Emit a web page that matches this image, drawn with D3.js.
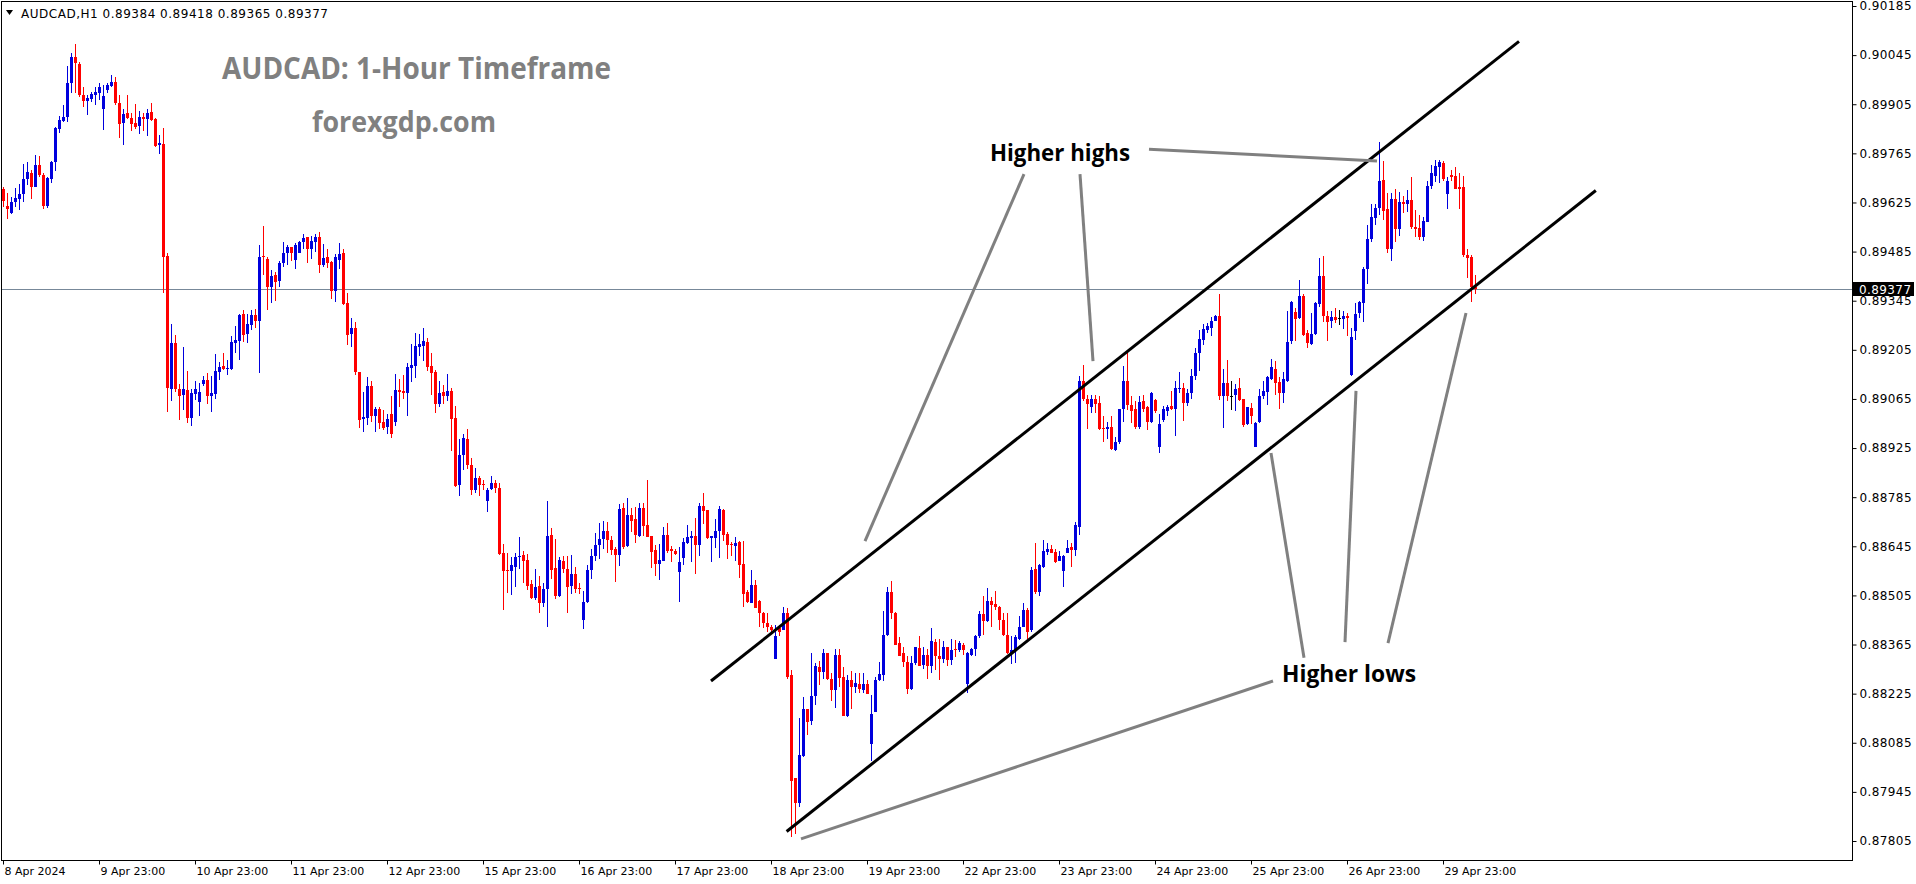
<!DOCTYPE html>
<html><head><meta charset="utf-8">
<script src="https://cdn.jsdelivr.net/npm/d3@7"></script>
<style>html,body{margin:0;padding:0;background:#fff;overflow:hidden}</style>
</head><body>
<svg id="chart" width="1916" height="884"></svg>
<script>
// ---- DATA (AUDCAD H1, bar 0 = 8 Apr 2024 23:00) ----
const open = [
0.89663,0.89615,0.89596,0.89625,0.89636,0.89649,0.89691,0.89708,0.89670,0.89731,
0.89702,0.89615,0.89693,0.89740,0.89835,0.89858,0.89870,0.89965,0.90039,0.90020,
0.89930,0.89913,0.89921,0.89932,0.89938,0.89892,0.89946,0.89957,0.89968,0.89908,
0.89851,0.89879,0.89866,0.89851,0.89843,0.89868,0.89864,0.89883,0.89862,0.89790,
0.89792,0.89473,0.89094,0.89224,0.89094,0.89077,0.89091,0.89011,0.89079,0.89056,
0.89108,0.89119,0.89074,0.89079,0.89142,0.89159,0.89151,0.89151,0.89225,0.89229,
0.89307,0.89250,0.89275,0.89305,0.89288,0.89472,0.89463,0.89383,0.89417,0.89402,
0.89453,0.89480,0.89497,0.89461,0.89482,0.89512,0.89526,0.89491,0.89512,0.89526,
0.89446,0.89469,0.89455,0.89374,0.89461,0.89480,0.89338,0.89250,0.89267,0.89142,
0.89009,0.89011,0.89102,0.89016,0.89035,0.88999,0.88986,0.89022,0.88999,0.89091,
0.89087,0.89083,0.89153,0.89159,0.89214,0.89216,0.89227,0.89159,0.89142,0.89051,
0.89085,0.89072,0.89089,0.89011,0.88819,0.88904,0.88952,0.88878,0.88806,0.88840,
0.88823,0.88775,0.88809,0.88825,0.88811,0.88625,0.88578,0.88576,0.88587,0.88616,
0.88619,0.88606,0.88538,0.88498,0.88532,0.88484,0.88524,0.88676,0.88583,0.88503,
0.88604,0.88581,0.88532,0.88566,0.88526,0.88435,0.88486,0.88578,0.88616,0.88648,
0.88665,0.88690,0.88663,0.88638,0.88621,0.88754,0.88646,0.88735,0.88722,0.88674,
0.88754,0.88705,0.88674,0.88635,0.88595,0.88604,0.88676,0.88636,0.88633,0.88572,
0.88612,0.88655,0.88669,0.88674,0.88650,0.88760,0.88749,0.88669,0.88669,0.88688,
0.88749,0.88680,0.88652,0.88646,0.88657,0.88595,0.88515,0.88484,0.88534,0.88488,
0.88454,0.88427,0.88414,0.88325,0.88412,0.88405,0.88456,0.88277,0.87985,0.87913,
0.88047,0.88180,0.88148,0.88217,0.88302,0.88287,0.88340,0.88266,0.88236,0.88336,
0.88272,0.88161,0.88264,0.88243,0.88253,0.88236,0.88253,0.88082,0.88173,0.88264,
0.88279,0.88391,0.88515,0.88456,0.88369,0.88340,0.88315,0.88237,0.88312,0.88355,
0.88306,0.88336,0.88304,0.88372,0.88332,0.88325,0.88357,0.88321,0.88351,0.88350,
0.88365,0.88253,0.88334,0.88351,0.88388,0.88452,0.88431,0.88488,0.88481,0.88473,
0.88435,0.88391,0.88340,0.88348,0.88382,0.88416,0.88462,0.88405,0.88579,0.88515,
0.88587,0.88629,0.88636,0.88629,0.88604,0.88576,0.88627,0.88642,0.88635,0.88701,
0.89115,0.89064,0.89043,0.89064,0.89054,0.88982,0.88978,0.88986,0.88920,0.88942,
0.89035,0.89115,0.89047,0.89035,0.88984,0.89058,0.89043,0.88999,0.89062,0.88929,
0.89005,0.89030,0.89045,0.89035,0.89092,0.89096,0.89053,0.89081,0.89129,0.89197,
0.89233,0.89262,0.89267,0.89288,0.89302,0.89072,0.89111,0.89072,0.89075,0.89096,
0.89064,0.88994,0.89039,0.88927,0.88999,0.89073,0.89085,0.89123,0.89151,0.89113,
0.89083,0.89115,0.89231,0.89313,0.89296,0.89357,0.89254,0.89222,0.89250,0.89336,
0.89414,0.89302,0.89288,0.89298,0.89296,0.89294,0.89302,0.89132,0.89258,0.89309,
0.89338,0.89435,0.89520,0.89581,0.89609,0.89689,0.89606,0.89492,0.89634,0.89550,
0.89626,0.89621,0.89632,0.89554,0.89552,0.89526,0.89569,0.89672,0.89701,0.89727,
0.89737,0.89649,0.89704,0.89701,0.89670,0.89668,0.89476,0.89471,0.89384];
const high = [
0.89670,0.89653,0.89642,0.89666,0.89678,0.89735,0.89739,0.89718,0.89759,0.89758,
0.89708,0.89699,0.89744,0.89841,0.89872,0.89902,0.90014,0.90050,0.90077,0.90024,
0.89953,0.89930,0.89940,0.89953,0.89966,0.89959,0.89965,0.89987,0.89982,0.89930,
0.89891,0.89930,0.89879,0.89906,0.89885,0.89881,0.89892,0.89908,0.89866,0.89816,
0.89837,0.89480,0.89279,0.89246,0.89108,0.89214,0.89144,0.89093,0.89115,0.89110,
0.89131,0.89138,0.89131,0.89193,0.89169,0.89197,0.89176,0.89243,0.89273,0.89307,
0.89319,0.89307,0.89319,0.89322,0.89503,0.89558,0.89469,0.89433,0.89427,0.89459,
0.89512,0.89503,0.89499,0.89510,0.89516,0.89535,0.89528,0.89529,0.89535,0.89541,
0.89507,0.89491,0.89457,0.89478,0.89509,0.89493,0.89366,0.89296,0.89284,0.89142,
0.89085,0.89127,0.89115,0.89043,0.89043,0.89034,0.89022,0.89073,0.89136,0.89121,
0.89134,0.89168,0.89222,0.89252,0.89250,0.89267,0.89239,0.89195,0.89148,0.89117,
0.89106,0.89136,0.89096,0.89045,0.88952,0.88965,0.88980,0.88897,0.88868,0.88845,
0.88834,0.88811,0.88845,0.88834,0.88826,0.88652,0.88627,0.88614,0.88627,0.88671,
0.88633,0.88623,0.88549,0.88581,0.88560,0.88540,0.88775,0.88697,0.88667,0.88614,
0.88616,0.88616,0.88621,0.88585,0.88540,0.88519,0.88591,0.88638,0.88684,0.88711,
0.88718,0.88714,0.88674,0.88644,0.88766,0.88768,0.88783,0.88754,0.88756,0.88768,
0.88768,0.88834,0.88674,0.88648,0.88652,0.88699,0.88711,0.88646,0.88638,0.88644,
0.88669,0.88705,0.88690,0.88726,0.88769,0.88796,0.88749,0.88674,0.88722,0.88760,
0.88750,0.88686,0.88657,0.88671,0.88661,0.88661,0.88521,0.88578,0.88549,0.88492,
0.88458,0.88454,0.88422,0.88420,0.88422,0.88473,0.88469,0.88293,0.87985,0.88156,
0.88215,0.88180,0.88340,0.88313,0.88317,0.88353,0.88342,0.88283,0.88351,0.88351,
0.88302,0.88277,0.88289,0.88285,0.88285,0.88283,0.88264,0.88220,0.88272,0.88315,
0.88460,0.88530,0.88545,0.88458,0.88386,0.88359,0.88331,0.88331,0.88359,0.88389,
0.88359,0.88351,0.88412,0.88382,0.88382,0.88374,0.88359,0.88380,0.88378,0.88374,
0.88369,0.88344,0.88355,0.88391,0.88460,0.88502,0.88526,0.88500,0.88517,0.88475,
0.88456,0.88454,0.88388,0.88391,0.88445,0.88483,0.88469,0.88585,0.88655,0.88595,
0.88663,0.88654,0.88650,0.88638,0.88633,0.88619,0.88663,0.88654,0.88714,0.89129,
0.89161,0.89075,0.89075,0.89075,0.89072,0.89016,0.88999,0.89016,0.88956,0.89037,
0.89159,0.89195,0.89073,0.89060,0.89072,0.89075,0.89045,0.89085,0.89066,0.89022,
0.89045,0.89047,0.89087,0.89115,0.89142,0.89110,0.89094,0.89151,0.89210,0.89262,
0.89279,0.89281,0.89298,0.89303,0.89364,0.89149,0.89176,0.89117,0.89108,0.89125,
0.89066,0.89043,0.89054,0.88999,0.89094,0.89115,0.89130,0.89180,0.89174,0.89127,
0.89142,0.89315,0.89345,0.89324,0.89404,0.89364,0.89262,0.89311,0.89340,0.89467,
0.89473,0.89315,0.89315,0.89324,0.89319,0.89317,0.89311,0.89267,0.89338,0.89343,
0.89442,0.89562,0.89621,0.89621,0.89796,0.89744,0.89653,0.89653,0.89663,0.89655,
0.89644,0.89661,0.89699,0.89604,0.89588,0.89583,0.89687,0.89731,0.89746,0.89746,
0.89742,0.89699,0.89718,0.89727,0.89710,0.89701,0.89493,0.89474,0.89418];
const low = [
0.89613,0.89577,0.89592,0.89613,0.89604,0.89625,0.89676,0.89636,0.89668,0.89697,
0.89607,0.89609,0.89680,0.89716,0.89824,0.89854,0.89853,0.89938,0.89938,0.89927,
0.89898,0.89875,0.89911,0.89904,0.89917,0.89832,0.89936,0.89955,0.89902,0.89809,
0.89790,0.89864,0.89830,0.89835,0.89820,0.89830,0.89814,0.89858,0.89784,0.89763,
0.89368,0.89028,0.89060,0.89085,0.89005,0.89034,0.88996,0.88988,0.89062,0.89015,
0.89102,0.89051,0.89028,0.89066,0.89119,0.89148,0.89134,0.89148,0.89195,0.89176,
0.89227,0.89224,0.89262,0.89267,0.89140,0.89419,0.89319,0.89339,0.89345,0.89383,
0.89442,0.89448,0.89459,0.89436,0.89480,0.89493,0.89452,0.89465,0.89484,0.89425,
0.89440,0.89438,0.89351,0.89341,0.89436,0.89334,0.89220,0.89214,0.89132,0.88982,
0.88971,0.88992,0.88999,0.88971,0.88980,0.88977,0.88965,0.88954,0.88988,0.89043,
0.89066,0.89016,0.89113,0.89125,0.89187,0.89174,0.89146,0.89077,0.89024,0.89043,
0.89051,0.89058,0.88918,0.88815,0.88788,0.88863,0.88864,0.88790,0.88796,0.88787,
0.88806,0.88743,0.88806,0.88796,0.88621,0.88464,0.88513,0.88507,0.88530,0.88581,
0.88541,0.88521,0.88494,0.88492,0.88454,0.88471,0.88414,0.88553,0.88496,0.88500,
0.88568,0.88456,0.88509,0.88511,0.88509,0.88410,0.88484,0.88553,0.88604,0.88610,
0.88636,0.88625,0.88619,0.88543,0.88589,0.88638,0.88642,0.88686,0.88655,0.88671,
0.88674,0.88671,0.88583,0.88560,0.88549,0.88602,0.88625,0.88600,0.88621,0.88486,
0.88593,0.88652,0.88600,0.88566,0.88616,0.88709,0.88667,0.88600,0.88640,0.88612,
0.88659,0.88610,0.88616,0.88604,0.88555,0.88473,0.88484,0.88484,0.88469,0.88414,
0.88412,0.88401,0.88399,0.88325,0.88388,0.88405,0.88266,0.87816,0.87825,0.87901,
0.88045,0.88108,0.88135,0.88194,0.88249,0.88266,0.88264,0.88205,0.88184,0.88245,
0.88160,0.88158,0.88182,0.88226,0.88226,0.88226,0.88224,0.88034,0.88173,0.88262,
0.88262,0.88388,0.88439,0.88363,0.88331,0.88302,0.88224,0.88234,0.88306,0.88304,
0.88296,0.88266,0.88285,0.88291,0.88264,0.88313,0.88304,0.88306,0.88329,0.88344,
0.88334,0.88226,0.88332,0.88331,0.88384,0.88393,0.88429,0.88416,0.88462,0.88407,
0.88388,0.88338,0.88310,0.88313,0.88378,0.88414,0.88382,0.88401,0.88509,0.88502,
0.88583,0.88619,0.88625,0.88598,0.88602,0.88530,0.88627,0.88587,0.88616,0.88678,
0.89058,0.88980,0.89024,0.89024,0.88977,0.88942,0.88952,0.88920,0.88916,0.88937,
0.88999,0.89034,0.88997,0.88980,0.88978,0.89028,0.88977,0.88997,0.89026,0.88912,
0.88999,0.89015,0.89034,0.88959,0.89081,0.89003,0.89045,0.89066,0.89119,0.89146,
0.89218,0.89252,0.89245,0.89286,0.89062,0.88982,0.89060,0.89034,0.89032,0.89058,
0.88984,0.88990,0.88994,0.88927,0.88997,0.89066,0.89049,0.89119,0.89075,0.89037,
0.89054,0.89113,0.89222,0.89231,0.89294,0.89245,0.89210,0.89220,0.89248,0.89328,
0.89283,0.89231,0.89267,0.89281,0.89275,0.89265,0.89243,0.89129,0.89233,0.89296,
0.89283,0.89393,0.89512,0.89562,0.89590,0.89575,0.89480,0.89459,0.89512,0.89530,
0.89594,0.89598,0.89550,0.89528,0.89518,0.89516,0.89568,0.89664,0.89682,0.89680,
0.89687,0.89607,0.89687,0.89663,0.89607,0.89471,0.89410,0.89341,0.89365];
const close = [
0.89630,0.89606,0.89626,0.89638,0.89649,0.89691,0.89712,0.89670,0.89731,0.89704,
0.89615,0.89695,0.89740,0.89837,0.89860,0.89868,0.89965,0.90039,0.90022,0.89930,
0.89915,0.89923,0.89934,0.89940,0.89953,0.89928,0.89959,0.89968,0.89908,0.89849,
0.89877,0.89866,0.89849,0.89839,0.89868,0.89864,0.89879,0.89860,0.89786,0.89794,
0.89471,0.89096,0.89224,0.89094,0.89074,0.89093,0.89011,0.89083,0.89093,0.89085,
0.89119,0.89074,0.89083,0.89146,0.89155,0.89151,0.89153,0.89227,0.89233,0.89305,
0.89248,0.89279,0.89305,0.89288,0.89469,0.89469,0.89385,0.89415,0.89398,0.89452,
0.89480,0.89497,0.89482,0.89503,0.89512,0.89524,0.89491,0.89514,0.89526,0.89446,
0.89467,0.89452,0.89374,0.89469,0.89478,0.89336,0.89248,0.89267,0.89142,0.89005,
0.89013,0.89102,0.89015,0.89035,0.88997,0.88982,0.89007,0.88965,0.89091,0.89085,
0.89083,0.89155,0.89161,0.89216,0.89222,0.89229,0.89157,0.89140,0.89051,0.89081,
0.89072,0.89087,0.89009,0.88817,0.88904,0.88954,0.88876,0.88806,0.88840,0.88821,
0.88821,0.88806,0.88825,0.88811,0.88623,0.88576,0.88576,0.88591,0.88614,0.88617,
0.88604,0.88532,0.88498,0.88528,0.88484,0.88524,0.88674,0.88578,0.88503,0.88606,
0.88579,0.88530,0.88566,0.88524,0.88522,0.88486,0.88578,0.88616,0.88648,0.88665,
0.88690,0.88663,0.88635,0.88621,0.88750,0.88642,0.88735,0.88718,0.88678,0.88754,
0.88703,0.88671,0.88629,0.88595,0.88606,0.88676,0.88633,0.88631,0.88623,0.88600,
0.88657,0.88672,0.88674,0.88650,0.88760,0.88747,0.88669,0.88674,0.88690,0.88750,
0.88678,0.88650,0.88648,0.88655,0.88593,0.88509,0.88486,0.88534,0.88469,0.88454,
0.88426,0.88414,0.88405,0.88389,0.88401,0.88454,0.88272,0.87977,0.87913,0.88049,
0.88180,0.88144,0.88218,0.88304,0.88287,0.88340,0.88266,0.88236,0.88336,0.88270,
0.88161,0.88264,0.88243,0.88254,0.88239,0.88253,0.88224,0.88167,0.88264,0.88281,
0.88391,0.88515,0.88454,0.88365,0.88332,0.88315,0.88237,0.88313,0.88359,0.88304,
0.88336,0.88304,0.88374,0.88331,0.88325,0.88357,0.88321,0.88350,0.88348,0.88369,
0.88348,0.88340,0.88351,0.88388,0.88452,0.88431,0.88488,0.88477,0.88471,0.88435,
0.88391,0.88340,0.88350,0.88386,0.88416,0.88462,0.88401,0.88578,0.88515,0.88591,
0.88633,0.88636,0.88627,0.88600,0.88616,0.88616,0.88640,0.88635,0.88705,0.89115,
0.89064,0.89051,0.89064,0.89051,0.88980,0.88978,0.88986,0.88921,0.88942,0.89035,
0.89115,0.89049,0.89032,0.88984,0.89056,0.89037,0.88999,0.89081,0.89030,0.88994,
0.89035,0.89043,0.89035,0.89096,0.89096,0.89053,0.89081,0.89130,0.89197,0.89235,
0.89264,0.89273,0.89286,0.89300,0.89072,0.89111,0.89072,0.89072,0.89094,0.89062,
0.88992,0.89041,0.89016,0.88996,0.89073,0.89089,0.89127,0.89155,0.89111,0.89083,
0.89123,0.89228,0.89340,0.89294,0.89357,0.89248,0.89224,0.89250,0.89338,0.89414,
0.89300,0.89284,0.89298,0.89290,0.89296,0.89302,0.89296,0.89241,0.89307,0.89340,
0.89435,0.89520,0.89583,0.89609,0.89687,0.89602,0.89492,0.89634,0.89549,0.89626,
0.89621,0.89632,0.89554,0.89550,0.89526,0.89571,0.89672,0.89708,0.89729,0.89739,
0.89693,0.89685,0.89697,0.89663,0.89664,0.89474,0.89467,0.89385,0.89377];

const priceTicks = [0.90185,0.90045,0.89905,0.89765,0.89625,0.89485,0.89345,0.89205,
  0.89065,0.88925,0.88785,0.88645,0.88505,0.88365,0.88225,0.88085,0.87945,0.87805];
const dateLabels = ["8 Apr 2024","9 Apr 23:00","10 Apr 23:00","11 Apr 23:00","12 Apr 23:00",
  "15 Apr 23:00","16 Apr 23:00","17 Apr 23:00","18 Apr 23:00","19 Apr 23:00","22 Apr 23:00",
  "23 Apr 23:00","24 Apr 23:00","25 Apr 23:00","26 Apr 23:00","29 Apr 23:00"];
const dateBars = [0,24,48,72,96,120,144,168,192,216,240,264,288,312,336,360];
const bidPrice = 0.89377;
const headerText = "AUDCAD,H1  0.89384 0.89418 0.89365 0.89377";
const titleText = "AUDCAD: 1-Hour Timeframe";
const siteText = "forexgdp.com";
// trend channel (bar index, price)
const channelLines = [
  {b1:177, p1:0.88261, b2:379, p2:0.90084},
  {b1:195.9, p1:0.87832, b2:398.2, p2:0.89659}];
// grey pointer lines
const pointerLines = [
  {b1:255.25, p1:0.89706, b2:215.5, p2:0.88660},
  {b1:269.25, p1:0.89706, b2:272.5, p2:0.89173},
  {b1:286.5, p1:0.89777, b2:343.5, p2:0.89743},
  {b1:317.5, p1:0.88261, b2:199.5, p2:0.87811},
  {b1:325.25, p1:0.88327, b2:317, p2:0.88911},
  {b1:335.5, p1:0.88372, b2:338.25, p2:0.89088},
  {b1:346.25, p1:0.88369, b2:365.75, p2:0.89310}];
const notes = [
  {text:"Higher highs", bar:246.75, price:0.89743, w:140},
  {text:"Higher lows", bar:319.75, price:0.88258, w:134}];

// ---- DRAW ----
const svg = d3.select("#chart");
const N = Math.min(open.length, high.length, low.length, close.length);
const x = d3.scaleLinear().domain([0, 368]).range([3, 1475]);
const y = d3.scaleLinear().domain([0.87805, 0.90185]).range([841, 6]);
const bull = "#0000dd", bear = "#ff0000";

svg.append("rect").attr("width",1916).attr("height",884).attr("fill","#fff");

// watermark title
svg.append("text").attr("x",222).attr("y",79).text(titleText)
  .attr("font-family","'Open Sans', Lato, sans-serif").attr("font-weight","bold")
  .attr("font-size",30).attr("fill","#808080")
  .attr("textLength",389).attr("lengthAdjust","spacingAndGlyphs");
svg.append("text").attr("x",312).attr("y",132).text(siteText)
  .attr("font-family","'Open Sans', Lato, sans-serif").attr("font-weight","bold")
  .attr("font-size",29).attr("fill","#808080")
  .attr("textLength",184).attr("lengthAdjust","spacingAndGlyphs");

// bid line
const yb = Math.round(y(bidPrice)) + 0.5;
svg.append("line").attr("x1",2).attr("x2",1852).attr("y1",yb).attr("y2",yb)
  .attr("stroke","#778899").attr("stroke-width",1);

// candles
const idx = d3.range(N);
const col = i => open[i] === close[i] ? "#000" : (close[i] > open[i] ? bull : bear);
const cg = svg.append("g").attr("shape-rendering","crispEdges");
cg.selectAll("line.w").data(idx).join("line").attr("class","w")
  .attr("x1", i => x(i)+0.5).attr("x2", i => x(i)+0.5)
  .attr("y1", i => y(high[i])).attr("y2", i => y(low[i]))
  .attr("stroke", col).attr("stroke-width",1);
cg.selectAll("rect.b").data(idx).join("rect").attr("class","b")
  .attr("x", i => x(i)-1).attr("width",3)
  .attr("y", i => y(Math.max(open[i],close[i])))
  .attr("height", i => Math.max(1, Math.abs(y(open[i]) - y(close[i]))))
  .attr("fill", col);

// channel lines
svg.selectAll("line.ch").data(channelLines).join("line").attr("class","ch")
  .attr("x1", d => x(d.b1)).attr("y1", d => y(d.p1))
  .attr("x2", d => x(d.b2)).attr("y2", d => y(d.p2))
  .attr("stroke","#000").attr("stroke-width",3);
// pointer lines
svg.selectAll("line.pt").data(pointerLines).join("line").attr("class","pt")
  .attr("x1", d => x(d.b1)).attr("y1", d => y(d.p1))
  .attr("x2", d => x(d.b2)).attr("y2", d => y(d.p2))
  .attr("stroke","#808080").attr("stroke-width",3);
// notes
svg.selectAll("text.note").data(notes).join("text").attr("class","note")
  .attr("x", d => x(d.bar)).attr("y", d => y(d.price)).text(d => d.text)
  .attr("font-family","'Open Sans', Lato, sans-serif").attr("font-weight","bold")
  .attr("font-size",23).attr("fill","#000")
  .attr("textLength", d => d.w).attr("lengthAdjust","spacingAndGlyphs");

// frame
svg.append("rect").attr("x",1.5).attr("y",1.5).attr("width",1851).attr("height",859)
  .attr("fill","none").attr("stroke","#000").attr("stroke-width",1);

// right price axis
const ya = svg.append("g").attr("transform","translate(1852.5,0)")
  .call(d3.axisRight(y).tickValues(priceTicks).tickSize(4).tickPadding(3)
    .tickFormat(d3.format(".5f")));
ya.select(".domain").remove();
ya.selectAll("text").attr("font-family","'DejaVu Sans', sans-serif").attr("font-size",12)
  .attr("letter-spacing","0.4px").attr("fill","#000");
ya.selectAll("line").attr("stroke","#000");

// bid label
svg.append("rect").attr("x",1852).attr("y",yb-7.5).attr("width",62).attr("height",14).attr("fill","#000");
svg.append("text").attr("x",1859).attr("y",yb).attr("dy","0.35em").text(d3.format(".5f")(bidPrice))
  .attr("font-family","'DejaVu Sans', sans-serif").attr("font-size",12)
  .attr("letter-spacing","0.4px").attr("fill","#fff");

// bottom date axis
const xa = svg.append("g").attr("transform","translate(0,860.5)")
  .call(d3.axisBottom(x).tickValues(dateBars).tickSize(4).tickPadding(3)
    .tickFormat((d,i) => dateLabels[i]));
xa.select(".domain").remove();
xa.selectAll("text").attr("text-anchor","start").attr("x",1)
  .attr("font-family","'DejaVu Sans', sans-serif").attr("font-size",11).attr("fill","#000");
xa.selectAll("line").attr("stroke","#000");

// header
svg.append("path").attr("d","M6,10 L13,10 L9.5,15 Z").attr("fill","#000");
svg.append("text").attr("x",21).attr("y",18).text(headerText)
  .attr("font-family","'DejaVu Sans', sans-serif").attr("font-size",12).attr("fill","#000")
  .attr("textLength",307).attr("lengthAdjust","spacing");
</script>
</body></html>
